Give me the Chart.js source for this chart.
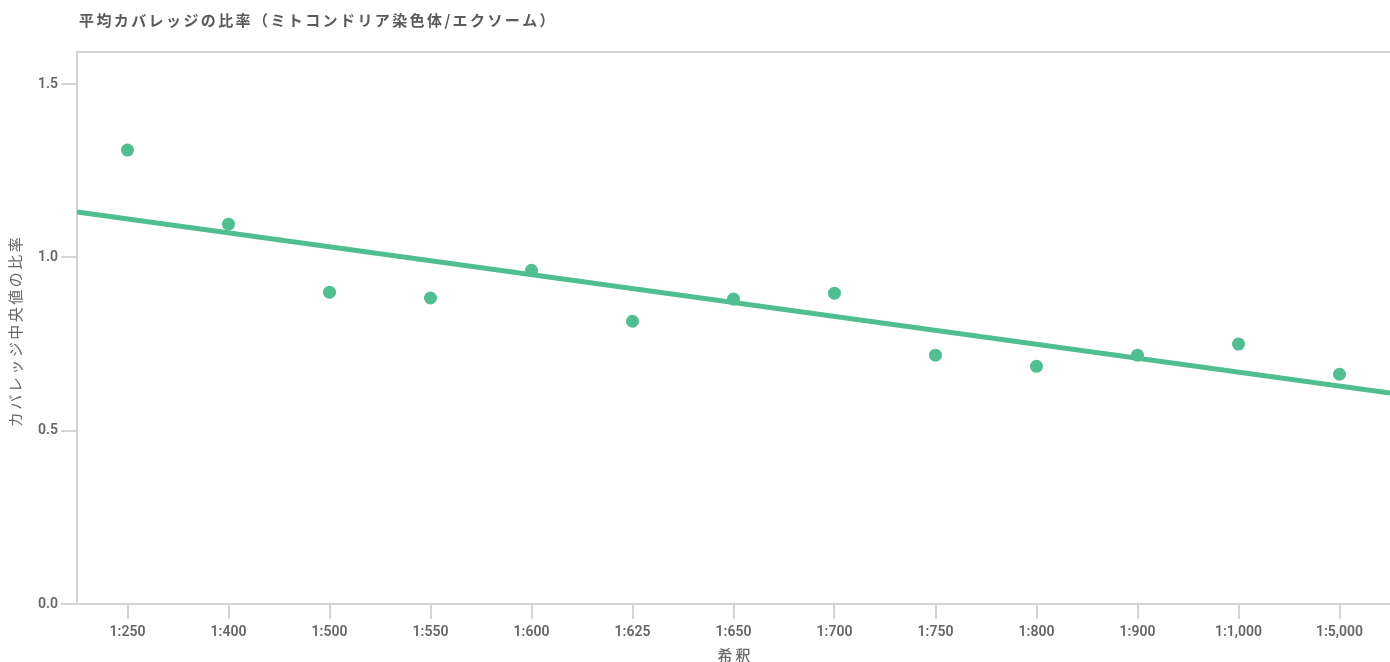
<!DOCTYPE html>
<html>
<head>
<meta charset="utf-8">
<script src="https://cdn.jsdelivr.net/npm/chart.js@4.4.0/dist/chart.umd.min.js"></script>
<style>
  html, body { margin: 0; padding: 0; background: #fff; }
  #wrap { position: relative; width: 1390px; height: 662px; }
</style>
</head>
<body>
<div id="wrap"><canvas id="chart"></canvas></div>
<script>
// Chart data
const chartTitle = '平均カバレッジの比率（ミトコンドリア染色体/エクソーム）';
const xTitle = '希釈';
const yTitle = 'カバレッジ中央値の比率';
const dilutions = ['1:250', '1:400', '1:500', '1:550', '1:600', '1:625', '1:650', '1:700', '1:750', '1:800', '1:900', '1:1,000', '1:5,000'];
const ratios = [1.310, 1.096, 0.900, 0.883, 0.963, 0.816, 0.880, 0.897, 0.718, 0.686, 0.718, 0.750, 0.663];
// trend line, read at the left and right edges of the plot
const trendX = [-0.5, 12.5];
const trendY = [1.131, 0.609];
const yTicks = [0, 0.5, 1.0, 1.5];

const green = 'rgb(80, 190, 144)';
const axisColor = '#d4d4d4';
const textColor = '#666666';
const cjkFont = '"Noto Sans CJK JP", "Noto Sans", sans-serif';
const tickFont = 'Roboto, "Noto Sans", sans-serif';

// Title, axis titles and top border, drawn by hand so they can be letter-spaced
const textPlugin = {
  id: 'chartTexts',
  afterDraw(chart) {
    const ctx = chart.ctx;
    const area = chart.chartArea;

    // top border of the plot
    ctx.save();
    ctx.strokeStyle = axisColor;
    ctx.lineWidth = 2;
    ctx.beginPath();
    ctx.moveTo(area.left, area.top);
    ctx.lineTo(area.right, area.top);
    ctx.stroke();
    ctx.restore();

    // chart title
    ctx.save();
    ctx.font = 'bold 15px ' + cjkFont;
    ctx.letterSpacing = '2.4px';
    ctx.fillStyle = '#5a5a5a';
    ctx.textBaseline = 'middle';
    ctx.textAlign = 'left';
    ctx.fillText(chartTitle, area.left + 2, 20);
    ctx.restore();

    // x axis title
    ctx.save();
    ctx.font = '500 15px ' + cjkFont;
    ctx.letterSpacing = '3px';
    ctx.fillStyle = textColor;
    ctx.textBaseline = 'middle';
    ctx.textAlign = 'center';
    ctx.fillText(xTitle, (area.left + area.right) / 2 + 2, 655);
    ctx.restore();

    // y axis title
    ctx.save();
    ctx.translate(15, (area.top + area.bottom) / 2 + 3);
    ctx.rotate(-Math.PI / 2);
    ctx.font = '400 15px ' + cjkFont;
    ctx.letterSpacing = '2.5px';
    ctx.fillStyle = textColor;
    ctx.textBaseline = 'middle';
    ctx.textAlign = 'center';
    ctx.fillText(yTitle, 0, 0);
    ctx.restore();
  }
};

const pointData = ratios.map((v, i) => ({ x: i, y: v }));
const lineData = trendX.map((x, i) => ({ x: x, y: trendY[i] }));

new Chart(document.getElementById('chart'), {
  type: 'scatter',
  data: {
    datasets: [
      {
        label: 'trend',
        type: 'line',
        data: lineData,
        borderColor: green,
        borderWidth: 5,
        pointRadius: 0,
        fill: false
      },
      {
        label: 'ratio',
        data: pointData,
        backgroundColor: green,
        borderColor: green,
        pointRadius: 6.5,
        borderWidth: 0
      }
    ]
  },
  options: {
    responsive: true,
    maintainAspectRatio: false,
    animation: false,
    layout: {
      autoPadding: false,
      padding: { top: 52, right: 0, left: 0, bottom: 0 }
    },
    plugins: {
      legend: { display: false },
      tooltip: { enabled: false }
    },
    scales: {
      x: {
        type: 'linear',
        min: -0.5,
        max: 12.5,
        afterBuildTicks: (axis) => {
          axis.ticks = dilutions.map((_, i) => ({ value: i }));
        },
        afterFit: (axis) => {
          axis.height = 58;
          axis.paddingLeft = 0;
          axis.paddingRight = 0;
        },
        grid: {
          drawOnChartArea: false,
          drawTicks: true,
          tickLength: 15,
          color: axisColor,
          lineWidth: 2
        },
        border: { color: axisColor, width: 2 },
        ticks: {
          callback: (value) => dilutions[value],
          color: textColor,
          padding: 5,
          maxRotation: 0,
          autoSkip: false,
          font: { family: tickFont, size: 14, weight: '600' }
        }
      },
      y: {
        min: 0,
        max: 1.593,
        afterBuildTicks: (axis) => {
          axis.ticks = yTicks.map(v => ({ value: v }));
        },
        afterFit: (axis) => {
          axis.width = 77;
          axis.paddingTop = 0;
          axis.paddingBottom = 0;
        },
        grid: {
          drawOnChartArea: false,
          drawTicks: true,
          tickLength: 16,
          color: axisColor,
          lineWidth: 2
        },
        border: { color: axisColor, width: 2 },
        ticks: {
          callback: (value) => value.toFixed(1),
          color: textColor,
          padding: 3,
          font: { family: tickFont, size: 14, weight: '600' }
        }
      }
    }
  },
  plugins: [textPlugin]
});
</script>
</body>
</html>
